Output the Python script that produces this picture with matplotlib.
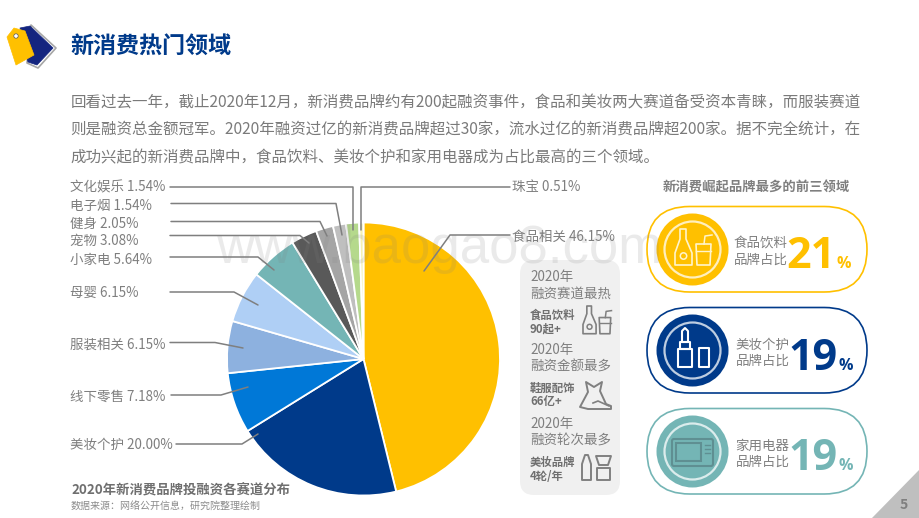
import matplotlib
matplotlib.use('Agg')
import matplotlib.pyplot as plt
from matplotlib.patches import Circle, FancyBboxPatch, Polygon, Rectangle

plt.rcParams['font.family'] = ['Noto Sans CJK SC', 'DejaVu Sans']

# data
sectors = ['食品相关', '美妆个护', '线下零售', '服装相关', '母婴', '小家电', '宠物', '健身', '电子烟', '文化娱乐', '珠宝']
shares = [46.15, 20.00, 7.18, 6.15, 6.15, 5.64, 3.08, 2.05, 1.54, 1.54, 0.51]
sector_colors = ['#FFC000', '#003A8A', '#0078D7', '#8DB1DF', '#AFCFF5', '#74B5B5',
                 '#595959', '#A5A5A5', '#BFBFBF', '#B5D98C', '#F4F1B5']
top_names = ['食品饮料', '美妆个护', '家用电器']
top_shares = ['21', '19', '19']
top_colors = ['#FFC000', '#003A8A', '#74B5B5']
panel_heads = ['融资赛道最热', '融资金额最多', '融资轮次最多']
panel_names = ['食品饮料', '鞋服配饰', '美妆品牌']
panel_vals = ['90起+', '66亿+', '4轮/年']
body_lines = [
    '回看过去一年，截止2020年12月，新消费品牌约有200起融资事件，食品和美妆两大赛道备受资本青睐，而服装赛道',
    '则是融资总金额冠军。2020年融资过亿的新消费品牌超过30家，流水过亿的新消费品牌超200家。据不完全统计，在',
    '成功兴起的新消费品牌中，食品饮料、美妆个护和家用电器成为占比最高的三个领域。',
]

GREY = '#7F7F7F'
ICON = '#808080'
CX, CY, R = 363.5, 359, 136.5

fig = plt.figure(figsize=(9.2, 5.18), dpi=100)
ax = fig.add_axes([0, 0, 1, 1])

# y runs downward, so the pie is counterclockwise in data to be clockwise on screen
wedges, _ = ax.pie(shares, colors=sector_colors, center=(CX, CY), radius=R, startangle=-90,
                   counterclock=True, wedgeprops={'edgecolor': 'white', 'linewidth': 1.3})
ax.set_xlim(0, 920)
ax.set_ylim(518, 0)
ax.set_aspect('auto')
ax.axis('off')


def txt(x, y, s, size=9.7, color=GREY, weight='normal', ha='left', va='center', **kw):
    return ax.text(x, y, s, fontsize=size, color=color, fontweight=weight, ha=ha, va=va, **kw)


def outline(points, color, lw=1.2, face='none', z=6):
    ax.add_patch(Polygon(points, closed=True, fill=face != 'none', facecolor=face,
                         edgecolor=color, lw=lw, zorder=z, joinstyle='round'))


def drinks(x, y, s, color):
    # bottle
    outline([(x + 5 * s, y), (x + 11 * s, y), (x + 11 * s, y + 10 * s), (x + 17 * s, y + 24 * s),
             (x + 17 * s, y + 36 * s), (x, y + 36 * s), (x, y + 24 * s), (x + 5 * s, y + 10 * s)], color)
    ax.add_patch(Circle((x + 8.5 * s, y + 27 * s), 3.2 * s, fill=False, edgecolor=color, lw=1.1, zorder=6))
    # cup and straw
    outline([(x + 21 * s, y + 15 * s), (x + 36 * s, y + 15 * s), (x + 35 * s, y + 36 * s), (x + 22 * s, y + 36 * s)], color)
    ax.plot([x + 21.5 * s, x + 36 * s], [y + 22 * s, y + 22 * s], color=color, lw=1, zorder=6)
    ax.plot([x + 29 * s, x + 30 * s, x + 37 * s], [y + 15 * s, y + 7 * s, y + 6 * s], color=color, lw=1.1, zorder=6)


def lipstick(x, y, s, color):
    outline([(x + 4 * s, y + 3 * s), (x + 7 * s, y), (x + 10 * s, y + 3 * s), (x + 10 * s, y + 14 * s), (x + 4 * s, y + 14 * s)], color, 1.5)
    outline([(x + 2 * s, y + 14 * s), (x + 12 * s, y + 14 * s), (x + 12 * s, y + 21 * s), (x + 2 * s, y + 21 * s)], color, 1.5)
    outline([(x, y + 21 * s), (x + 14 * s, y + 21 * s), (x + 14 * s, y + 39 * s), (x, y + 39 * s)], color, 1.5)
    outline([(x + 21 * s, y + 20 * s), (x + 31 * s, y + 20 * s), (x + 31 * s, y + 39 * s), (x + 21 * s, y + 39 * s)], color, 1.5)


def microwave(x, y, color):
    ax.add_patch(FancyBboxPatch((x, y), 41, 27, boxstyle='round,pad=0,rounding_size=2', fill=False,
                                edgecolor=color, lw=1.5, zorder=6))
    ax.add_patch(Rectangle((x + 4, y + 4), 25, 18, fill=False, edgecolor=color, lw=1.5, zorder=6))
    for k in range(3):
        ax.plot([x + 33, x + 38], [y + 6 + 4 * k, y + 6 + 4 * k], color=color, lw=1, zorder=6)


def dress_shoe(x, y, color):
    outline([(x + 6, y), (x + 14, y + 5), (x + 22, y), (x + 20, y + 9), (x + 26, y + 22),
             (x + 31, y + 24), (x + 31, y + 27), (x + 8, y + 27), (x, y + 25), (x + 8, y + 10)], color, 1.4)
    ax.plot([x + 13, x + 18, x + 29], [y + 21, y + 19, y + 24], color=color, lw=1.2, zorder=6)


def brush_jar(x, y, color):
    outline([(x, y + 9), (x + 3, y), (x + 6, y), (x + 9, y + 9), (x + 9, y + 25), (x, y + 25)], color, 1.4)
    outline([(x + 14, y + 1), (x + 29, y + 1), (x + 26, y + 10), (x + 17, y + 10)], color, 1.4)
    outline([(x + 15, y + 13), (x + 28, y + 13), (x + 28, y + 25), (x + 15, y + 25)], color, 1.4)


# header
outline([(31, 25), (56, 48), (38, 68), (27, 63)], '#A6A6A6', 1.2, 'white', 2)
outline([(20, 28), (30, 26), (53, 48), (37, 65), (28, 62)], '#14257F', 0.5, '#14257F', 3)
outline([(7, 37), (14, 28), (25, 31), (34, 55), (16, 65)], '#FFC000', 0.5, '#FFC000', 4)
ax.add_patch(Circle((16, 36), 2.2, facecolor='white', edgecolor='#555555', lw=0.5, zorder=5))
txt(70, 47.5, '新消费热门领域', size=16.6, color='#003A8A', weight='bold')

for y, line in zip([103, 130.5, 158], body_lines):
    txt(70.5, y, line, size=11.17, color='#7A7A7A')

# pie labels and their leaders: label y, line y, line start x, elbow x, end point on the wedge
label_y = [236, 444, 396, 344, 292, 259, 240, 223, 205, 187, 187]
line_y = [235, 444, 395, 342.5, 292, 257, 235.5, 221.5, 203.5, 187, 187]
line_from = [510, 176, 171, 170, 170, 170, 170, 171, 171, 170, 510]
elbow_x = [450, 242, 221, 215, 234, 258, 300, 320, 336, 353.5, 361.5]
end_pts = [(424, 271), (258, 434), (248, 387), (243, 348), (258, 305), (274, 270),
           (309, 243), (327, 236), (342, 235), (353.5, 230), (361.5, 230)]

for i, (name, share) in enumerate(zip(sectors, shares)):
    ax.plot([line_from[i], elbow_x[i], end_pts[i][0]], [line_y[i], line_y[i], end_pts[i][1]],
            color=GREY, lw=1.1, zorder=5, solid_capstyle='round')
    label = f'{name} {share:.2f}%'
    if i in (0, 10):
        txt(line_from[i] + 2, label_y[i] + 0.5, label)
    else:
        txt(70.5, label_y[i] + 0.5, label)

txt(71, 490, '2020年新消费品牌投融资各赛道分布', size=9.6, color='#6F6F6F', weight='bold')
txt(70.5, 507, '数据来源：网络公开信息，研究院整理绘制', size=7.2, color='#8C8C8C')

# grey panel
ax.add_patch(FancyBboxPatch((520, 260), 100, 235, boxstyle='round,pad=0,rounding_size=14',
                            facecolor='#F0F0F0', edgecolor='none', zorder=1))
for k, (y0, head, name, val) in enumerate(zip([277, 350, 424], panel_heads, panel_names, panel_vals)):
    txt(530, y0, '2020年')
    txt(530, y0 + 17, head)
    txt(530, y0 + 38.5, name, size=8.2, weight='bold', color='#6F6F6F')
    txt(530, y0 + 52, val, size=8.2, weight='bold', color='#6F6F6F')
drinks(583, 306, 0.77, ICON)
dress_shoe(580, 382, ICON)
brush_jar(582, 455, ICON)

# top three pills
txt(756, 187, '新消费崛起品牌最多的前三领域', size=9.6, color=GREY, weight='bold', ha='center')
for name, val, col, top in zip(top_names, top_shares, top_colors, [206.5, 307.5, 408.5]):
    ax.add_patch(FancyBboxPatch((647, top), 220, 85.5, boxstyle='round,pad=0,rounding_size=42.7',
                                facecolor='white', edgecolor=col, lw=1.2, zorder=2))
    cx, cy = 692.5, top + 43
    ax.add_patch(Circle((cx, cy), 36, facecolor=col, edgecolor='none', zorder=3))
    ax.add_patch(Circle((cx, cy), 28, fill=False, edgecolor='white', alpha=0.75, lw=1.6, zorder=4))
    shift = 0 if top < 300 else 2
    txt(733.5 + shift, cy - 6, name, color='#808080')
    txt(733.5 + shift, cy + 10, '品牌占比', color='#808080')
    txt(786 + shift, cy + 19, val, size=31, color=col, weight='bold', va='baseline', family='Open Sans')
    txt(836.5 + shift, cy + 19, '%', size=11.5, color=col, weight='bold', va='baseline', family='Open Sans')
drinks(675, 229, 1, '#FFF4CC')
lipstick(678, 328, 1, 'white')
microwave(672, 439, '#5F8F92')

# watermark and page corner
ax.text(439, 249, 'www.baogao8.com', fontsize=38, family='Liberation Sans', color='#808080', alpha=0.16,
        ha='center', va='center', zorder=8)
ax.add_patch(Polygon([(872, 518), (920, 469), (920, 518)], closed=True, facecolor='#BFBFBF', edgecolor='none'))
txt(904, 505, '5', size=10, color='#7F7F7F', weight='bold', ha='center')

fig.savefig('out.png', dpi=100)
